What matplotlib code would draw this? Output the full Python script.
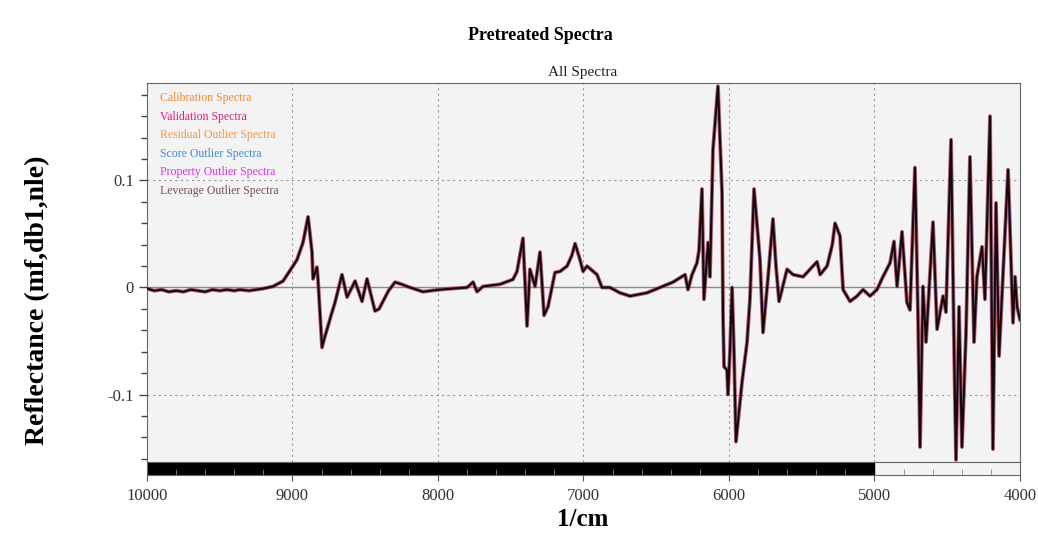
import numpy as np
import matplotlib.pyplot as plt
from matplotlib.ticker import MultipleLocator, FuncFormatter

# wavenumber (1/cm) and pretreated reflectance of the spectra
wavenumber = [10000, 9950, 9900, 9850, 9800, 9750, 9700, 9650, 9600, 9550,
              9500, 9450, 9400, 9361, 9300, 9250, 9200, 9134, 9065, 8997,
              8969, 8928, 8893, 8866, 8859, 8832, 8825, 8797, 8780, 8756,
              8735, 8708, 8660, 8625, 8570, 8522, 8488, 8433, 8405, 8378,
              8340, 8295, 8250, 8192, 8103, 8050, 7986, 7900, 7800, 7759,
              7732, 7691, 7574, 7485, 7457, 7416, 7388, 7368, 7333, 7299,
              7271, 7244, 7196, 7161, 7113, 7080, 7058, 7040, 7024, 7003,
              6976, 6907, 6873, 6818, 6750, 6680, 6564, 6474, 6385, 6337,
              6302, 6282, 6254, 6220, 6206, 6186, 6172, 6144, 6131, 6110,
              6076, 6048, 6041, 6034, 6014, 6007, 5993, 5979, 5966, 5952,
              5911, 5876, 5856, 5828, 5787, 5766, 5732, 5698, 5677, 5656,
              5601, 5560, 5491, 5443, 5395, 5374, 5326, 5290, 5271, 5237,
              5216, 5168, 5120, 5079, 5031, 4983, 4942, 4893, 4866, 4845,
              4811, 4777, 4756, 4722, 4701, 4687, 4667, 4646, 4598, 4570,
              4529, 4509, 4474, 4453, 4440, 4419, 4399, 4371, 4344, 4316,
              4296, 4261, 4241, 4206, 4186, 4165, 4144, 4082, 4048, 4034,
              4020, 4000]
reflectance = [-0.001, -0.003, -0.002, -0.004, -0.003, -0.004, -0.002, -0.003, -0.004, -0.002,
               -0.003, -0.002, -0.003, -0.002, -0.003, -0.002, -0.001, 0.001, 0.006, 0.020,
               0.026, 0.042, 0.066, 0.033, 0.008, 0.019, 0.008, -0.056, -0.047, -0.036,
               -0.026, -0.014, 0.012, -0.009, 0.006, -0.013, 0.008, -0.022, -0.020, -0.013,
               -0.003, 0.005, 0.003, 0.000, -0.004, -0.003, -0.002, -0.001, 0.000, 0.005,
               -0.004, 0.001, 0.003, 0.0075, 0.015, 0.046, -0.036, 0.017, 0.001, 0.033,
               -0.026, -0.018, 0.014, 0.015, 0.020, 0.030, 0.041, 0.033, 0.026, 0.015,
               0.020, 0.012, 0.000, 0.000, -0.005, -0.008, -0.005, 0.000, 0.005, 0.009,
               0.012, -0.002, 0.012, 0.023, 0.035, 0.092, -0.011, 0.042, 0.010, 0.129,
               0.188, 0.089, -0.027, -0.074, -0.077, -0.100, -0.058, 0.000, -0.058, -0.144,
               -0.089, -0.051, -0.011, 0.092, 0.026, -0.042, 0.009, 0.064, 0.020, -0.013,
               0.017, 0.012, 0.010, 0.017, 0.024, 0.012, 0.020, 0.040, 0.060, 0.048,
               -0.002, -0.013, -0.008, -0.002, -0.008, -0.002, 0.010, 0.023, 0.043, 0.001,
               0.052, -0.014, -0.021, 0.112, -0.027, -0.149, 0.001, -0.051, 0.061, -0.039,
               -0.008, -0.023, 0.138, -0.058, -0.161, -0.018, -0.149, -0.042, 0.122, -0.051,
               0.010, 0.038, -0.011, 0.160, -0.151, 0.079, -0.064, 0.110, -0.033, 0.010,
               -0.018, -0.030]

legend_names = ["Calibration Spectra", "Validation Spectra", "Residual Outlier Spectra",
                "Score Outlier Spectra", "Property Outlier Spectra", "Leverage Outlier Spectra"]
legend_colors = ["#f08c2a", "#d8207c", "#e89a58", "#3f8ad8", "#e030e6", "#7a5050"]

xticks = [10000, 9000, 8000, 7000, 6000, 5000, 4000]

serif = ["Liberation Serif", "DejaVu Serif"]

fig = plt.figure(figsize=(10.38, 5.35), dpi=100)

W, H = 1038.0, 535.0
left, right = 147 / W, 1020 / W
ax = fig.add_axes([left, 1 - 462 / H, right - left, (462 - 83) / H])
bar = fig.add_axes([left, 1 - 475 / H, right - left, (475 - 462) / H])

ax.set_facecolor("#f3f3f3")
ax.set_xlim(10000, 4000)
ax.set_ylim(-0.163, 0.191)

# dotted grid and the zero line
for xv in xticks[1:-1]:
    ax.axvline(xv, color="#9a9a9a", lw=0.8, ls=(0, (2, 3)), zorder=1)
for yv in [-0.1, 0.1]:
    ax.axhline(yv, color="#9a9a9a", lw=0.8, ls=(0, (2, 3)), zorder=1)
ax.axhline(0, color="#8a8a8a", lw=1.0, zorder=1)

wn = np.array(wavenumber)
r = np.array(reflectance)
ax.plot(wn, r, color="#c81e2a", lw=2.8, alpha=0.7, zorder=2)
ax.plot(wn, r, color="#3f6fc8", lw=2.1, alpha=0.5, zorder=3)
ax.plot(wn, r, color="#1a0808", lw=1.5, zorder=4)

ax.tick_params(axis="x", bottom=False, labelbottom=False)
ax.yaxis.set_major_locator(MultipleLocator(0.1))
ax.yaxis.set_minor_locator(MultipleLocator(0.02))
ax.yaxis.set_major_formatter(FuncFormatter(lambda v, p: "0" if abs(v) < 1e-9 else f"{v:.1f}"))
ax.tick_params(axis="y", which="major", length=6, width=1, color="#444444",
               labelsize=12, labelcolor="#333333")
ax.tick_params(axis="y", which="minor", length=4, width=1, color="#444444")
for lbl in ax.get_yticklabels():
    lbl.set_fontfamily(serif)
for s in ax.spines.values():
    s.set_color("#666666")

# legend as coloured text lines
for i, (name, col) in enumerate(zip(legend_names, legend_colors)):
    ax.text(0.015, 0.96 - i * 0.0488, name, color=col, fontsize=8.5,
            family=serif, transform=ax.transAxes, va="center", ha="left")

# range bar under the plot
bar.set_xlim(10000, 4000)
bar.set_ylim(0, 1)
bar.set_facecolor("#f3f3f3")
bar.axvspan(10000, 5000, color="black")
bar.set_yticks([])
bar.set_xticks(xticks)
bar.xaxis.set_minor_locator(MultipleLocator(200))
bar.tick_params(axis="x", which="major", length=4, color="#555555",
                labelsize=12, labelcolor="#333333", pad=5)
bar.tick_params(axis="x", which="minor", direction="in", length=4, color="#888888")
for lbl in bar.get_xticklabels():
    lbl.set_fontfamily(serif)
for s in bar.spines.values():
    s.set_color("#666666")

fig.text(540 / W, 1 - 35 / H, "Pretreated Spectra", ha="center", va="center",
         fontsize=13, fontweight="bold", family=serif)
fig.text(583 / W, 1 - 72 / H, "All Spectra", ha="center", va="center",
         fontsize=11, family=serif, color="#222222")
fig.text(38 / W, 1 - 300 / H, "Reflectance (mf,db1,nle)", ha="center", va="center",
         rotation=90, fontsize=20, fontweight="bold", family=serif)
fig.text(583 / W, 1 - 520 / H, "1/cm", ha="center", va="center",
         fontsize=18, fontweight="bold", family=serif)

fig.savefig("out.png", dpi=100)
